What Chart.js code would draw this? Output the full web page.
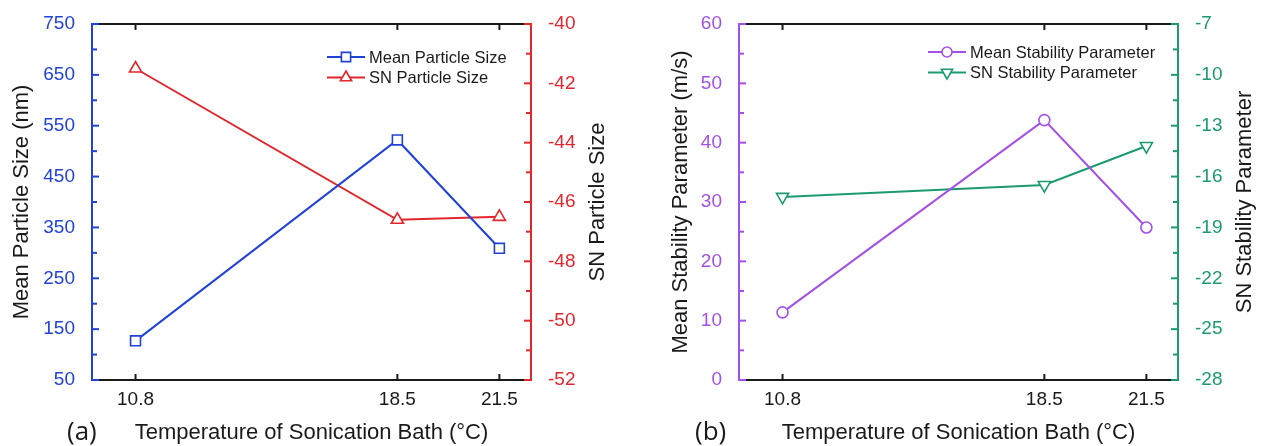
<!DOCTYPE html>
<html>
<head>
<meta charset="utf-8">
<title>Sonication bath temperature</title>
<script src="https://cdn.jsdelivr.net/npm/chart.js@4.4.1/dist/chart.umd.min.js"></script>
<style>
  body { margin: 0; background: #fff; }
  .wrap { display: flex; width: 1262px; height: 446px; }
  .panel { position: relative; width: 631px; height: 446px; }
</style>
</head>
<body>
<div class="wrap">
  <div class="panel"><canvas id="sizeChart"></canvas></div>
  <div class="panel"><canvas id="stabilityChart"></canvas></div>
</div>
<script>
// Bath temperature (°C) and measured responses
const temperatures = [10.8, 18.5, 21.5];
const meanParticleSize = [127, 522, 309];
const snParticleSize = [-41.5, -46.6, -46.5];
const meanStability = [11.4, 43.8, 25.7];
const snStability = [-17.2, -16.5, -14.2];

// Major tick values for each y axis
const particleTicks = [50, 150, 250, 350, 450, 550, 650, 750];
const snParticleTicks = [-52, -50, -48, -46, -44, -42, -40];
const stabilityTicks = [0, 10, 20, 30, 40, 50, 60];
const snStabilityTicks = [-28, -25, -22, -19, -16, -13, -10, -7];

const FONT = "'Liberation Sans', Arial, sans-serif";
const BLUE = '#2142d6';
const RED = '#e2262b';
const PURPLE = '#a450e6';
const GREEN = '#1b9a72';
const INK = '#1a1a1a';

Chart.defaults.font.family = FONT;
Chart.defaults.animation = false;

function series(label, values, color, style, radius, axis, rotation) {
    return {
        label: label,
        yAxisID: axis,
        data: temperatures.map((t, i) => ({ x: t, y: values[i] })),
        borderColor: color,
        backgroundColor: '#fff',
        borderWidth: 2,
        pointStyle: style,
        pointRadius: radius,
        pointRotation: rotation || 0,
        pointBorderColor: color,
        pointBackgroundColor: '#fff',
        pointBorderWidth: 1.6,
        tension: 0,
        clip: false
    };
}

function yAxis(position, tickValues, color, width, title, titlePad) {
    return {
        type: 'linear',
        position: position,
        min: tickValues[0],
        max: tickValues[tickValues.length - 1],
        afterBuildTicks: s => { s.ticks = tickValues.map(v => ({ value: v })); },
        afterFit: s => { s.width = width; },
        grid: { display: false, drawOnChartArea: false },
        border: { display: true, color: color, width: 2 },
        ticks: { color: color, padding: 9, font: { size: 19 } },
        title: title ? {
            display: true, text: title, color: INK,
            font: { size: 22 }, padding: { top: titlePad, bottom: 0 }
        } : { display: false }
    };
}

// Inward ticks, top frame line, right-hand title, panel letter and legend
const framePlugin = {
    id: 'frame',
    afterDraw(chart, args, opts) {
        const { ctx, chartArea: a, scales } = chart;
        const line = (x1, y1, x2, y2) => {
            ctx.beginPath(); ctx.moveTo(x1, y1); ctx.lineTo(x2, y2); ctx.stroke();
        };
        ctx.save();
        ctx.lineWidth = 2;
        ctx.strokeStyle = INK;
        line(a.left + 1, a.top, a.right - 1, a.top);
        scales.x.ticks.forEach(t => {
            const px = scales.x.getPixelForValue(t.value);
            line(px, a.bottom, px, a.bottom - 6);
            line(px, a.top, px, a.top + 6);
        });

        ['y', 'y1'].forEach(id => {
            const s = scales[id];
            const left = s.options.position === 'left';
            const edge = left ? a.left : a.right;
            const dir = left ? 1 : -1;
            ctx.strokeStyle = s.options.border.color;
            const vals = s.ticks.map(t => t.value);
            vals.forEach((v, i) => {
                const py = s.getPixelForValue(v);
                line(edge, py, edge + dir * 7, py);
                if (i < vals.length - 1) {
                    const my = s.getPixelForValue((v + vals[i + 1]) / 2);
                    line(edge, my, edge + dir * 5, my);
                }
            });
        });

        // right axis title reads bottom to top like the left one
        ctx.fillStyle = INK;
        ctx.font = '22px ' + FONT;
        ctx.textAlign = 'center';
        ctx.textBaseline = 'middle';
        ctx.save();
        ctx.translate(opts.rightTitleX, (a.top + a.bottom) / 2);
        ctx.rotate(-Math.PI / 2);
        ctx.fillText(opts.rightTitle, 0, 0);
        ctx.restore();

        ctx.font = "26px 'Open Sans', sans-serif";
        ctx.textAlign = 'left';
        ctx.textBaseline = 'alphabetic';
        ctx.fillText(opts.letter, opts.letterX, 440);

        // legend: line with marker, then label
        ctx.font = '16.5px ' + FONT;
        ctx.textBaseline = 'middle';
        chart.data.datasets.forEach((ds, i) => {
            const y = opts.legendY + i * 20.5;
            const x = opts.legendX;
            ctx.strokeStyle = ds.borderColor;
            ctx.lineWidth = 2;
            line(x, y, x + 38, y);
            ctx.fillStyle = '#fff';
            ctx.lineWidth = 1.6;
            Chart.helpers.drawPoint(ctx, {
                pointStyle: ds.pointStyle,
                rotation: ds.pointRotation,
                radius: ds.pointRadius - 0.5,
                borderWidth: 1.6
            }, x + 19, y);
            ctx.fillStyle = INK;
            ctx.fillText(ds.label, x + 42, y + 1);
        });
        ctx.restore();
    }
};

function buildChart(id, cfg) {
    return new Chart(document.getElementById(id), {
        type: 'line',
        data: { datasets: cfg.datasets },
        options: {
            responsive: true,
            maintainAspectRatio: false,
            events: [],
            layout: { padding: { top: 24, left: 0, right: 0, bottom: 0 } },
            plugins: {
                legend: { display: false },
                tooltip: { enabled: false },
                frame: cfg.frame
            },
            scales: {
                x: {
                    type: 'linear',
                    min: 9.52,
                    max: 22.43,
                    afterBuildTicks: s => { s.ticks = temperatures.map(v => ({ value: v })); },
                    afterFit: s => { s.height = 66; },
                    grid: { display: false, drawOnChartArea: false },
                    border: { display: true, color: INK, width: 2 },
                    ticks: { color: INK, padding: 0, font: { size: 19 }, callback: v => v.toFixed(1) },
                    title: {
                        display: true,
                        text: 'Temperature of Sonication Bath (°C)',
                        color: INK,
                        font: { size: 22 },
                        padding: { top: 0, bottom: 0 }
                    }
                },
                y: cfg.y,
                y1: cfg.y1
            }
        },
        plugins: [framePlugin]
    });
}

buildChart('sizeChart', {
    datasets: [
        series('Mean Particle Size', meanParticleSize, BLUE, 'rect', 7, 'y'),
        series('SN Particle Size', snParticleSize, RED, 'triangle', 7, 'y1')
    ],
    y: yAxis('left', particleTicks, BLUE, 92, 'Mean Particle Size (nm)', 9),
    y1: yAxis('right', snParticleTicks, RED, 100, null),
    frame: {
        rightTitle: 'SN Particle Size', rightTitleX: 598,
        letter: '(a)', letterX: 67,
        legendX: 327, legendY: 57
    }
});

buildChart('stabilityChart', {
    datasets: [
        series('Mean Stability Parameter', meanStability, PURPLE, 'circle', 5.5, 'y'),
        series('SN Stability Parameter', snStability, GREEN, 'triangle', 7, 'y1', 180)
    ],
    y: yAxis('left', stabilityTicks, PURPLE, 108, 'Mean Stability Parameter (m/s)', 37),
    y1: yAxis('right', snStabilityTicks, GREEN, 84, null),
    frame: {
        rightTitle: 'SN Stability Parameter', rightTitleX: 614,
        letter: '(b)', letterX: 64,
        legendX: 297, legendY: 52
    }
});
</script>
</body>
</html>
